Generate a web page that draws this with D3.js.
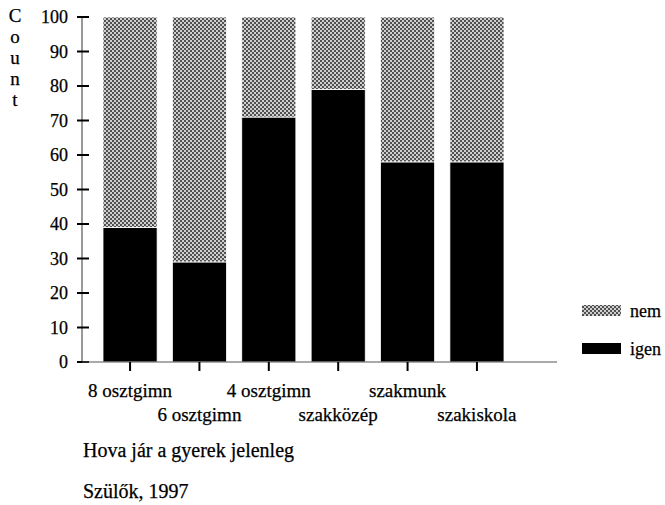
<!DOCTYPE html>
<html>
<head>
<meta charset="utf-8">
<script src="https://cdn.jsdelivr.net/npm/d3@7"></script>
<style>
  body { margin: 0; background: #fff; }
  text { font-family: "Liberation Serif", "Times New Roman", serif; fill: #000; font-size: 18px;
         stroke: #000; stroke-width: 0.25px; }
</style>
</head>
<body>
<div id="chart"></div>
<script>
// data
var categories = ["8 osztgimn", "6 osztgimn", "4 osztgimn", "szakközép", "szakmunk", "szakiskola"];
var igen = [39, 29, 71, 79, 58, 58];
var nem = [61, 71, 29, 21, 42, 42];
var yTicks = [0, 10, 20, 30, 40, 50, 60, 70, 80, 90, 100];
var seriesNames = ["igen", "nem"];

var width = 665, height = 505;

var svg = d3.select("#chart").append("svg")
    .attr("width", width)
    .attr("height", height);

// checker pattern for "nem"
var defs = svg.append("defs");
var pat = defs.append("pattern")
    .attr("id", "checker")
    .attr("patternUnits", "userSpaceOnUse")
    .attr("width", 4).attr("height", 4);
pat.append("rect").attr("width", 4).attr("height", 4).attr("fill", "#cfcfcf");
pat.append("rect").attr("width", 2).attr("height", 2).attr("fill", "#505050");
pat.append("rect").attr("x", 2).attr("y", 2).attr("width", 2).attr("height", 2).attr("fill", "#505050");

var fills = { igen: "#000", nem: "url(#checker)" };

var x = d3.scaleBand()
    .domain(categories)
    .range([103, 504])
    .paddingInner(0.22)
    .paddingOuter(0);

var y = d3.scaleLinear()
    .domain([0, 100])
    .range([362, 17]);

var rows = categories.map(function(c, i) { return { cat: c, igen: igen[i], nem: nem[i] }; });
var stack = d3.stack().keys(seriesNames)(rows);

// bars
svg.append("g")
  .selectAll("g")
  .data(stack)
  .enter().append("g")
    .attr("fill", function(d) { return fills[d.key]; })
  .selectAll("rect")
  .data(function(d) { return d; })
  .enter().append("rect")
    .attr("x", function(d) { return x(d.data.cat); })
    .attr("y", function(d) { return y(d[1]); })
    .attr("width", x.bandwidth())
    .attr("height", function(d) { return y(d[0]) - y(d[1]); })
    .attr("stroke", "#fff")
    .attr("stroke-width", 0.8);

// y axis
var yAxis = svg.append("g");
yAxis.append("line")
    .attr("x1", 82).attr("x2", 82)
    .attr("y1", y(100)).attr("y2", y(0))
    .attr("stroke", "#333").attr("stroke-width", 1);
yAxis.selectAll(".tick")
  .data(yTicks)
  .enter().append("line")
    .attr("x1", 77).attr("x2", 89)
    .attr("y1", function(d) { return y(d); })
    .attr("y2", function(d) { return y(d); })
    .attr("stroke", "#000").attr("stroke-width", 2);
yAxis.selectAll("text")
  .data(yTicks)
  .enter().append("text")
    .attr("x", 68)
    .attr("y", function(d) { return y(d); })
    .attr("dy", "0.35em")
    .attr("text-anchor", "end")
    .text(function(d) { return d; });

// y label stacked letters
svg.append("g").selectAll("text")
  .data("Count".split(""))
  .enter().append("text")
    .attr("x", 15)
    .attr("y", function(d, i) { return 22 + i * 21; })
    .attr("text-anchor", "middle")
    .style("font-size", "19px")
    .text(function(d) { return d; });

// x axis
var xAxis = svg.append("g");
xAxis.append("line")
    .attr("x1", 82).attr("x2", 557)
    .attr("y1", y(0)).attr("y2", y(0))
    .attr("stroke", "#555").attr("stroke-width", 1);
xAxis.selectAll(".tick")
  .data(categories)
  .enter().append("line")
    .attr("x1", function(d) { return x(d) + x.bandwidth() / 2; })
    .attr("x2", function(d) { return x(d) + x.bandwidth() / 2; })
    .attr("y1", y(0)).attr("y2", y(0) + 9)
    .attr("stroke", "#000").attr("stroke-width", 2);
xAxis.selectAll("text")
  .data(categories)
  .enter().append("text")
    .attr("x", function(d) { return x(d) + x.bandwidth() / 2; })
    .attr("y", function(d, i) { return i % 2 == 0 ? 397 : 421; })
    .attr("text-anchor", "middle")
    .style("font-size", "19px")
    .text(function(d) { return d; });

// legend
var legend = svg.append("g");
var legendItems = ["nem", "igen"];
legend.selectAll("rect")
  .data(legendItems)
  .enter().append("rect")
    .attr("x", 582)
    .attr("y", function(d, i) { return 305 + i * 38; })
    .attr("width", 39).attr("height", 11)
    .attr("fill", function(d) { return fills[d]; });
legend.selectAll("text")
  .data(legendItems)
  .enter().append("text")
    .attr("x", 630)
    .attr("y", function(d, i) { return 311 + i * 38; })
    .attr("dy", "0.35em")
    .text(function(d) { return d; });

// captions
svg.append("text")
    .attr("x", 83).attr("y", 457)
    .style("font-size", "20px")
    .text("Hova jár a gyerek jelenleg");
svg.append("text")
    .attr("x", 83).attr("y", 498)
    .style("font-size", "20px")
    .text("Szülők, 1997");
</script>
</body>
</html>
